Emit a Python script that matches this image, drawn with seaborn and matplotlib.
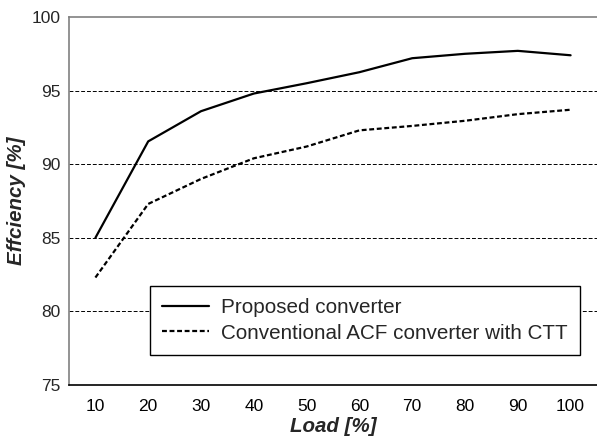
import pandas as pd
import matplotlib
matplotlib.use('Agg')
import matplotlib.pyplot as plt
import seaborn as sns

# Data
load = [10, 20, 30, 40, 50, 60, 70, 80, 90, 100]
proposed = [85.0, 91.55, 93.6, 94.8, 95.5, 96.25, 97.2, 97.5, 97.7, 97.4]
conventional = [82.3, 87.3, 89.0, 90.4, 91.2, 92.3, 92.6, 92.95, 93.4, 93.7]
series_names = ['Proposed converter', 'Conventional ACF converter with CTT']

df = pd.concat([
    pd.DataFrame({'load': load, 'eff': proposed, 'series': series_names[0]}),
    pd.DataFrame({'load': load, 'eff': conventional, 'series': series_names[1]}),
])

sns.set_style('white')
plt.rcParams['font.family'] = ['Liberation Sans', 'DejaVu Sans']

fig = plt.figure(figsize=(5.97, 4.41), dpi=100)
ax = fig.add_axes([69 / 597, 56 / 441, 528 / 597, 368 / 441])

sns.lineplot(data=df, x='load', y='eff', style='series', color='black',
             dashes={series_names[0]: '', series_names[1]: (2.2, 1.2)},
             linewidth=1.6, ax=ax)

# grid lines
for v in [80, 85, 90, 95]:
    ax.axhline(v, color='black', linestyle=(0, (4, 2)), linewidth=0.7, zorder=0)

ax.set_xlim(5, 105)
ax.set_ylim(75, 100)
ax.set_xticks(load)
ax.set_yticks([75, 80, 85, 90, 95, 100])
ax.tick_params(axis='x', direction='in', length=3, width=1, colors='black',
               labelsize=12.5, pad=10)
ax.tick_params(axis='y', length=0, labelsize=12.5, pad=6)

ax.spines['right'].set_visible(False)
ax.spines['left'].set_color('#808080')
ax.spines['top'].set_color('#808080')
ax.spines['bottom'].set_color('black')
for s in ['left', 'top', 'bottom']:
    ax.spines[s].set_linewidth(1.2)

ax.set_xlabel('Load [%]', fontsize=14.8, fontweight='bold', fontstyle='italic', labelpad=2)
ax.set_ylabel('Effciency [%]', fontsize=14.8, fontweight='bold', fontstyle='italic', labelpad=4)

leg = ax.legend(loc='lower right', bbox_to_anchor=(580 / 597, (441 - 355) / 441),
                bbox_transform=fig.transFigure, fontsize=14.9, frameon=True,
                fancybox=False, edgecolor='black', framealpha=1,
                handlelength=2.25, handletextpad=0.6, borderpad=0.6,
                labelspacing=0.3, borderaxespad=0)
leg.get_frame().set_linewidth(1.0)
leg.set_title(None)

fig.savefig('out.png', dpi=100)
